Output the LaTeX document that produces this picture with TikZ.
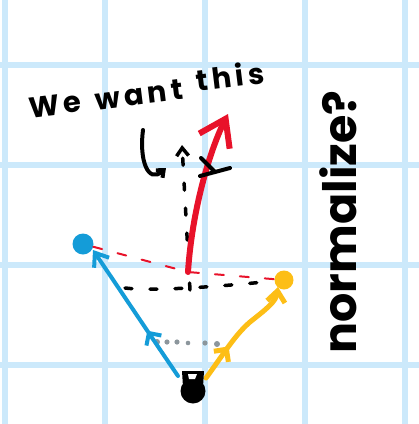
\documentclass[tikz,border=0pt]{standalone}
\usepackage{fontspec}
\setmainfont{Poppins}
\newfontfamily\handfont{Poppins}[LetterSpace=14]
\usetikzlibrary{arrows.meta,decorations.markings}
\definecolor{gridblue}{RGB}{204,233,251}
\definecolor{penblue}{RGB}{20,156,216}
\definecolor{penyellow}{RGB}{253,190,22}
\definecolor{penred}{RGB}{232,18,42}
\definecolor{pengrey}{RGB}{140,150,156}
\begin{document}
\begin{tikzpicture}[x=1pt,y=-1pt,line cap=round,line join=round,
  gridline/.style={draw=gridblue,line width=6pt,line cap=butt},
  bluepen/.style={draw=penblue,line width=4pt},
  yellowpen/.style={draw=penyellow,line width=5pt},
  redpen/.style={draw=penred,line width=6pt},
  blackpen/.style={draw=black,line width=4pt},
  reddash/.style={draw=penred,line width=2pt,dash pattern=on 9pt off 16pt},
  blackdash/.style={draw=black,line width=3.5pt,dash pattern=on 7pt off 18pt},
  greydot/.style={fill=pengrey},
  bluedot/.style={circle,fill=penblue,minimum size=21pt,inner sep=0pt},
  yellowdot/.style={circle,fill=penyellow,minimum size=19pt,inner sep=0pt},
  midarrow/.style={postaction={decorate},decoration={markings,
     mark=at position #1 with {\arrow{Straight Barb[length=9pt,width=18pt]}}}},
  handtext/.style={font=\handfont\bfseries\fontsize{29}{29}\selectfont,inner sep=0pt,rotate=7},
  bigtext/.style={font=\bfseries\fontsize{46}{46}\selectfont,inner sep=0pt,rotate=90}]
\useasboundingbox (0,0) rectangle (419,424);
\fill[white] (0,0) rectangle (419,424);
% grid
\foreach \gx in {5,105,205,305,405} \draw[gridline] (\gx,0) -- (\gx,424);
\foreach \gy in {65,165,265,365} \draw[gridline] (0,\gy) -- (419,\gy);
% coordinates
\coordinate (Ob) at (178,376);
\coordinate (Oy) at (206,378);
\coordinate (Bt) at (93,250);
\coordinate (Yt) at (278,287);
\coordinate (Rb) at (188,272);
\coordinate (Rt) at (228,114);
\coordinate (Lb) at (125,288);
\coordinate (Vb) at (190,290);
\coordinate (Vt) at (182,145);
\coordinate (C1) at (143,130);
\coordinate (C2) at (166,168);
% dots
\node[bluedot] (B) at (83,244) {};
\node[yellowdot] (Y) at (284,280) {};
% dashed lines
\draw[reddash] (B) -- (Rb) -- (Y);
\draw[blackdash] (Lb) .. controls (150,291) and (205,288) .. (Y);
\draw[blackdash,-{Straight Barb[length=8pt,width=12pt]}] (Vb) -- (Vt);
% grey dotted
\foreach \px/\py/\pr in {157/342/3,167/342/2.6,177/342/2.6,188/343/2.3,205/343/2.6,217/344/3}
  \fill[greydot] (\px,\py) circle (\pr);
% blue arrow
\draw[bluepen,midarrow=0.36,-{Straight Barb[length=12pt,width=18pt]}] (Ob) .. controls (150,335) and (120,290) .. (Bt);
% yellow arrow
\draw[yellowpen,midarrow=0.33,-{Straight Barb[length=11pt,width=18pt]}] (Oy) .. controls (225,352) and (235,335) .. (250,322) .. controls (265,310) and (276,302) .. (Yt);
% red arrow
\draw[redpen,-{Straight Barb[length=25pt,width=34pt]}] (Rb) .. controls (192,210) and (210,150) .. (Rt);
% black curved arrow
\draw[blackpen,-{Straight Barb[length=6pt,width=10pt]}] (C1) .. controls (139,160) and (148,184) .. (C2);
% mark on red arrow
\coordinate (X1) at (201,158);
\coordinate (X2) at (215,172);
\coordinate (X3) at (200,176);
\coordinate (X4) at (230,168);
\draw[blackpen] (X1) -- (X2);
\draw[blackpen] (X3) -- (X4);
% origin blob
\fill (193,391) circle (12.5);
\fill (182,371) -- (204,371) -- (203,387) -- (183,387) -- cycle;
\fill[white] (188,374) -- (197,374) -- (195,379) -- (189,379) -- cycle;
% texts
\node[handtext] (w1) at (55,105) {We};
\node[handtext] (w2) at (139,95) {want};
\node[handtext] (w3) at (230,76) {this};
\node[bigtext] (t2) at (338,222) {normalize?};
\end{tikzpicture}
\end{document}
